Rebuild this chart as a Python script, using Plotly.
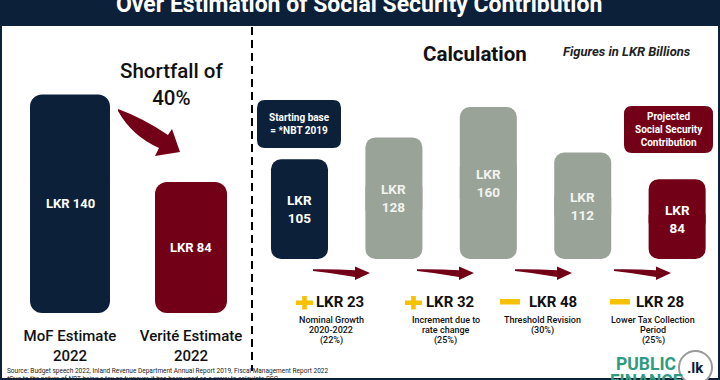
import plotly.graph_objects as go

# ---------------- data ----------------
left_categories = ["MoF Estimate<br>2022", "Verité Estimate<br>2022"]
left_values = [140, 84]
left_labels = ["LKR 140", "LKR 84"]

calc_categories = ["Starting base", "Nominal growth", "Rate change", "Threshold revision", "Projected SSC"]
calc_values = [105, 128, 160, 112, 84]
calc_labels = ["LKR<br>105", "LKR<br>128", "LKR<br>160", "LKR<br>112", "LKR<br>84"]

change_values = [23, 32, -48, -28]
change_descriptions = [
    ["Nominal Growth", "2020-2022", "(22%)"],
    ["Increment due to", "rate change", "(25%)"],
    ["Threshold Revision", "(30%)"],
    ["Lower Tax Collection", "Period", "(25%)"],
]

title = "Over Estimation of Social Security Contribution"
shortfall_text = "Shortfall of<br>40%"
source_lines = [
    "Source: Budget speech 2022, Inland Revenue Department Annual Report 2019, Fiscal Management Report 2022",
    "*Due to the nature of NBT being a tax on turnover, it has been used as a proxy to calculate SSC",
]

# ---------------- style ----------------
W, H = 720, 380
NAVY = "#0c203a"
MAROON = "#720017"
GRAY = "#99a398"
GOLD = "#f6c100"
TEAL = "#2f9b80"
FONT = "Roboto"

left_colors = [NAVY, MAROON]
left_widths = [0.661, 0.595]
calc_colors = [NAVY, GRAY, GRAY, GRAY, MAROON]


def px(x):
    return x / W


def py(y):
    return 1 - y / H


def path_px(cmds):
    out = []
    for c in cmds:
        if isinstance(c, str):
            out.append(c)
        else:
            out.append(f"{px(c[0]):.5f},{py(c[1]):.5f}")
    return " ".join(out)


def rrect(x0, y0, x1, y1, r):
    return path_px([
        "M", (x0 + r, y0), "L", (x1 - r, y0), "Q", (x1, y0), (x1, y0 + r),
        "L", (x1, y1 - r), "Q", (x1, y1), (x1 - r, y1), "L", (x0 + r, y1),
        "Q", (x0, y1), (x0, y1 - r), "L", (x0, y0 + r), "Q", (x0, y0), (x0 + r, y0), "Z",
    ])


annotations = []
shapes = []


def ann(x, y, text, size, color="#111", xanchor="center", weight=None, xref="paper", yref="paper"):
    f = dict(family=FONT, size=size, color=color)
    if weight is not None:
        f["weight"] = weight
    annotations.append(dict(x=x, y=y, xref=xref, yref=yref, text=text, showarrow=False,
                            xanchor=xanchor, yanchor="middle", font=f))


fig = go.Figure()


def rounded_bars(cats, vals, colors, widths, radius, xa, ya):
    # two overlapping pieces so every corner of each bar is rounded
    upper_base = [v / 3 for v in vals]
    upper_len = [v - v / 3 for v in vals]
    lower_top = [2 * v / 3 for v in vals]
    fig.add_trace(go.Bar(x=cats, y=upper_len, base=upper_base, width=widths,
                         marker=dict(color=colors, line=dict(width=0), cornerradius=radius),
                         xaxis=xa, yaxis=ya, hoverinfo="skip", showlegend=False))
    fig.add_trace(go.Bar(x=cats, y=[-t for t in lower_top], base=lower_top, width=widths,
                         marker=dict(color=colors, line=dict(width=0), cornerradius=radius),
                         xaxis=xa, yaxis=ya, hoverinfo="skip", showlegend=False))


rounded_bars(left_categories, left_values, left_colors, left_widths, 12, "x", "y")
rounded_bars(calc_categories, calc_values, calc_colors, [0.604] * len(calc_values), 10, "x2", "y2")

# bar labels
for c, v, t in zip(left_categories, left_values, left_labels):
    ann(c, v / 2, f"<b>{t}</b>", 13, "white", xref="x", yref="y")
for i, (c, v, t) in enumerate(zip(calc_categories, calc_values, calc_labels)):
    col = "white" if calc_colors[i] != GRAY else "#f2f3ef"
    ann(c, v / 2, f"<b>{t}</b>", 13.5, col, xref="x2", yref="y2")

# header
shapes.append(dict(type="rect", xref="paper", yref="paper", x0=0, x1=1, y0=py(26), y1=1,
                   fillcolor=NAVY, line=dict(width=0), layer="below"))
ann(px(359), py(4), f"<b>{title}</b>", 23, "white")
# frame
shapes.append(dict(type="rect", xref="paper", yref="paper", x0=0, x1=1, y0=0, y1=1,
                   line=dict(color=NAVY, width=4), fillcolor="rgba(0,0,0,0)"))
# dashed separator
shapes.append(dict(type="line", xref="paper", yref="paper", x0=px(252), x1=px(252), y0=py(27), y1=py(371),
                   line=dict(color="black", width=2, dash="8px,5px")))

# shortfall text & arrow
ann(px(171), py(84), shortfall_text, 20.5, "#111", weight=500)
shapes.append(dict(type="path", xref="paper", yref="paper", fillcolor=MAROON, line=dict(width=0),
                   path=path_px(["M", (118, 109), "Q", (143, 118), (168, 135), "L", (172, 129), "L", (180, 152),
                                 "L", (155, 156), "L", (159, 148), "Q", (132, 136), (118, 111), "Z"])))

# right panel headings
ann(px(475), py(54), "<b>Calculation</b>", 20.5, "#111")
ann(px(627), py(52), "<b><i>Figures in LKR Billions</i></b>", 13, "#222")

# label boxes
shapes.append(dict(type="path", xref="paper", yref="paper", fillcolor=NAVY, line=dict(width=0),
                   path=rrect(257, 100, 341, 148, 8)))
ann(px(299), py(124), "<b>Starting base<br>= *NBT 2019</b>", 10, "white")
shapes.append(dict(type="path", xref="paper", yref="paper", fillcolor=MAROON, line=dict(width=0),
                   path=rrect(624, 106, 713, 153, 8)))
ann(px(668.5), py(129), "<b>Projected<br>Social Security<br>Contribution</b>", 10, "white")

# step arrows, icons and texts
arrow_x0 = [313, 417, 515, 614]
icon_x = [304.5, 413.5, 510, 620]
label_x = [340, 450, 553, 660]
desc_x = [331, 445.5, 542.5, 653]
for i, v in enumerate(change_values):
    x0 = arrow_x0[i]
    shapes.append(dict(type="path", xref="paper", yref="paper", fillcolor=MAROON, line=dict(width=0),
                       path=path_px(["M", (x0, 269.3), "Q", (x0 + 22, 269.0), (x0 + 42, 270.2),
                                     "L", (x0 + 42, 266.5), "L", (x0 + 57, 273), "L", (x0 + 42, 280),
                                     "L", (x0 + 42, 277), "Q", (x0 + 20, 273), (x0, 271), "Z"])))
    cx = icon_x[i]
    if v > 0:
        shapes.append(dict(type="rect", xref="paper", yref="paper", x0=px(cx - 8.5), x1=px(cx + 8.5),
                           y0=py(305), y1=py(300.5), fillcolor=GOLD, line=dict(width=0)))
        shapes.append(dict(type="rect", xref="paper", yref="paper", x0=px(cx - 2.3), x1=px(cx + 2.3),
                           y0=py(309.5), y1=py(296), fillcolor=GOLD, line=dict(width=0)))
    else:
        shapes.append(dict(type="rect", xref="paper", yref="paper", x0=px(cx - 10), x1=px(cx + 10),
                           y0=py(304.5), y1=py(299), fillcolor=GOLD, line=dict(width=0)))
    ann(px(label_x[i]), py(302), f"<b>LKR {abs(v)}</b>", 15, "#111")
    for j, ln in enumerate(change_descriptions[i]):
        ann(px(desc_x[i]), py(319.5 + 10.7 * j), ln, 9, "#111", weight=500)

# source notes
for j, ln in enumerate(source_lines):
    ann(px(5), py(370.5 + 8 * j), ln, 6.5, "#222", xanchor="left")

# logo
ann(px(646), py(363.5), "<b>PUBLIC</b>", 17.5, TEAL)
ann(px(646), py(381), "<b>FINANCE</b>", 17.5, TEAL)
shapes.append(dict(type="circle", xref="paper", yref="paper", x0=px(679), x1=px(712), y0=py(384), y1=py(351),
                   fillcolor="white", line=dict(color="#9a9a9a", width=2)))
ann(px(695.5), py(367.5), "<b>.lk</b>", 15, NAVY)

fig.update_layout(
    width=W, height=H, margin=dict(l=0, r=0, t=0, b=0),
    paper_bgcolor="white", plot_bgcolor="rgba(0,0,0,0)",
    barmode="overlay", showlegend=False,
    shapes=shapes, annotations=annotations,
    xaxis=dict(domain=[0, px(252)], range=[-0.5785, 1.504], type="category",
               showgrid=False, zeroline=False, showline=False, ticks="",
               tickfont=dict(family=FONT, size=15, color="#111", weight=500), ticklabelstandoff=12,
               fixedrange=True),
    yaxis=dict(domain=[py(313), py(25)], range=[0, 184.6], visible=False, fixedrange=True),
    xaxis2=dict(domain=[px(252), px(718)], range=[-0.503, 4.433], type="category", anchor="y2",
                showticklabels=False, showgrid=False, zeroline=False, showline=False, ticks="",
                fixedrange=True),
    yaxis2=dict(domain=[py(259), py(25)], range=[0, 246.3], visible=False, anchor="x2", fixedrange=True),
)

fig.write_html("out.html", config={"displayModeBar": False},
               post_script="document.body.style.margin='0';document.body.style.overflow='hidden';")
